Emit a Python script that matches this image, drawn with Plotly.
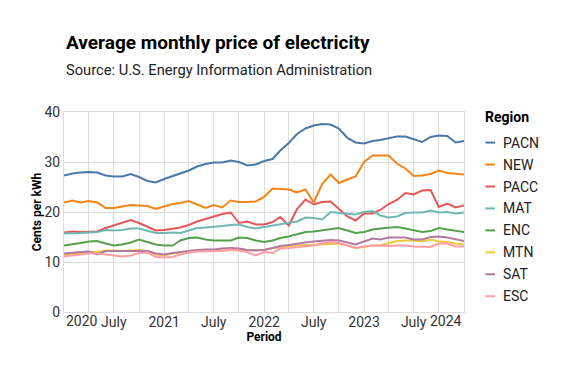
import pandas as pd
import plotly.graph_objects as go

periods = pd.date_range("2020-01-01", periods=49, freq="MS")

regions = ["PACN", "NEW", "PACC", "MAT", "ENC", "MTN", "SAT", "ESC"]
colors = ["#4c78a8", "#f58518", "#e45756", "#72b7b2", "#54a24b", "#eeca3b", "#b279a2", "#ff9da6"]

PACN = [27.3, 27.7, 27.9, 28.0, 27.9, 27.3, 27.1, 27.1, 27.6, 27.0, 26.2, 25.9, 26.6, 27.2, 27.8, 28.3,
        29.1, 29.6, 29.9, 29.9, 30.3, 30.0, 29.3, 29.5, 30.2, 30.6, 32.3, 33.8, 35.6, 36.7, 37.3, 37.6,
        37.5, 36.7, 34.8, 33.9, 33.7, 34.2, 34.4, 34.7, 35.1, 35.1, 34.5, 34.0, 35.0, 35.3, 35.2, 33.9, 34.2]
NEW = [21.9, 22.3, 21.9, 22.2, 21.9, 20.8, 20.8, 21.1, 21.4, 21.3, 21.2, 20.6, 21.1, 21.6, 21.8, 22.2,
       21.5, 20.8, 21.4, 20.9, 22.3, 22.0, 22.0, 22.1, 23.0, 24.7, 24.6, 24.5, 23.9, 24.5, 21.9, 25.6,
       27.5, 25.8, 26.5, 27.1, 30.0, 31.3, 31.3, 31.3, 29.7, 28.7, 27.2, 27.3, 27.6, 28.3, 27.8, 27.7, 27.5]
PACC = [15.9, 16.1, 16.0, 16.1, 16.1, 16.8, 17.3, 17.8, 18.4, 17.8, 17.0, 16.3, 16.4, 16.6, 16.9, 17.4,
        18.1, 18.6, 19.1, 19.6, 19.9, 17.8, 18.1, 17.5, 17.5, 18.0, 19.0, 17.3, 20.6, 22.5, 21.5, 22.0,
        22.1, 20.7, 19.1, 18.3, 19.7, 19.7, 20.4, 21.6, 22.4, 23.8, 23.5, 24.3, 24.4, 21.0, 21.7, 20.9, 21.3]
MAT = [15.7, 15.7, 15.8, 15.9, 16.0, 16.4, 16.3, 16.4, 16.7, 16.7, 16.2, 15.8, 15.8, 15.9, 15.8, 16.3,
       16.8, 16.9, 17.0, 17.2, 17.4, 17.5, 17.0, 16.7, 17.0, 17.3, 17.5, 17.8, 18.1, 18.9, 18.8, 18.5,
       20.0, 19.8, 19.7, 19.5, 20.0, 20.2, 19.3, 18.9, 19.1, 19.8, 19.9, 19.9, 20.3, 19.9, 20.0, 19.7, 19.9]
ENC = [13.3, 13.5, 13.8, 14.1, 14.2, 13.7, 13.3, 13.5, 13.9, 14.5, 14.0, 13.5, 13.3, 13.3, 14.3, 14.8,
       14.9, 14.5, 14.3, 14.3, 14.3, 14.9, 14.8, 14.3, 14.0, 14.3, 14.8, 15.1, 15.5, 16.0, 16.1, 16.3,
       16.5, 16.8, 16.3, 15.8, 16.0, 16.5, 16.7, 16.8, 17.0, 16.7, 16.3, 16.0, 16.2, 16.8, 16.5, 16.2, 16.0]
MTN = [11.3, 11.5, 11.8, 12.0, 12.0, 12.3, 12.3, 12.2, 12.3, 12.4, 12.2, 11.5, 11.3, 11.7, 11.9, 12.2,
       12.3, 12.3, 12.3, 12.3, 12.4, 12.4, 12.3, 12.3, 12.4, 12.8, 12.9, 13.2, 13.3, 13.4, 13.5, 13.5,
       13.7, 13.7, 13.3, 12.8, 13.0, 13.3, 13.3, 13.7, 14.2, 14.3, 14.3, 14.1, 14.5, 14.1, 14.0, 13.7, 13.5]
SAT = [11.7, 11.9, 12.0, 12.1, 11.5, 12.2, 12.2, 12.2, 12.3, 12.3, 12.2, 11.7, 11.5, 11.8, 12.0, 12.3,
       12.4, 12.5, 12.5, 12.7, 12.8, 12.7, 12.4, 12.3, 12.4, 12.8, 13.2, 13.4, 13.7, 13.9, 14.1, 14.3,
       14.4, 14.3, 13.9, 13.5, 14.1, 14.7, 14.5, 14.9, 14.9, 14.9, 14.5, 14.5, 15.0, 15.1, 14.9, 14.5, 14.2]
ESC = [11.1, 11.3, 11.5, 11.7, 11.7, 11.5, 11.2, 11.1, 11.3, 11.8, 11.9, 11.0, 10.9, 11.0, 11.5, 11.9,
       12.1, 12.1, 12.2, 12.2, 12.5, 12.3, 12.0, 11.3, 12.0, 11.8, 12.7, 12.8, 13.0, 13.1, 13.3, 13.7,
       14.0, 13.8, 13.3, 12.8, 13.1, 13.3, 13.3, 13.2, 13.3, 13.3, 13.1, 13.0, 13.0, 13.7, 13.7, 13.1, 13.1]

series = [PACN, NEW, PACC, MAT, ENC, MTN, SAT, ESC]

y_ticks = [0, 10, 20, 30, 40]
x_ticks = pd.date_range("2020-01-01", "2024-01-01", freq="3MS")
x_ticktext = ["", "", "July", "", "2021", "", "July", "", "2022", "", "July", "", "2023", "", "July", "", ""]

FONT = "Roboto, 'Noto Sans', sans-serif"

# figure geometry (page body has an 8px default margin, so the figure is 553x365)
W, H = 553, 365
ML, MR, MT, MB = 56.3, 96.7, 103.7, 61.3
PLOT_W = W - ML - MR
PLOT_H = H - MT - MB


def px(page_x):
    return (page_x - 8 - ML) / PLOT_W


def py(page_y):
    return (H - MB - (page_y - 8)) / PLOT_H


fig = go.Figure()
for name, vals, c in zip(regions, series, colors):
    fig.add_trace(go.Scatter(x=periods, y=vals, mode="lines", name=name,
                             line=dict(color=c, width=2), showlegend=False,
                             hovertemplate="%{x|%b %Y}: %{y}<extra>" + name + "</extra>"))

annotations = [
    dict(text="<b>Average monthly price of electricity</b>", xref="paper", yref="paper",
         x=0.0, y=py(42), xanchor="left", yanchor="middle", showarrow=False,
         font=dict(size=19, color="#000", family=FONT)),
    dict(text="Source: U.S. Energy Information Administration", xref="paper", yref="paper",
         x=0.0, y=py(70), xanchor="left", yanchor="middle", showarrow=False,
         font=dict(size=14.7, color="#222", family=FONT)),
    dict(text="2020", xref="x", yref="paper", x=periods[0], y=py(321),
         xanchor="left", yanchor="middle", showarrow=False,
         font=dict(size=14, color="#333", family=FONT)),
    dict(text="2024", xref="x", yref="paper", x=periods[-1], y=py(321),
         xanchor="right", yanchor="middle", showarrow=False,
         font=dict(size=14, color="#333", family=FONT)),
    # legend title
    dict(text="<b>Region</b>", xref="paper", yref="paper", x=px(483.5), y=py(116.5),
         xanchor="left", yanchor="middle", showarrow=False,
         font=dict(size=14, color="#000", family=FONT)),
]
shapes = []
for k, (name, c) in enumerate(zip(regions, colors)):
    yc = 142.3 + 21.95 * k
    shapes.append(dict(type="line", xref="paper", yref="paper",
                       x0=px(485.7), x1=px(495.3), y0=py(yc), y1=py(yc),
                       line=dict(color=c, width=2)))
    annotations.append(dict(text=name, xref="paper", yref="paper", x=px(501.5), y=py(yc),
                            xanchor="left", yanchor="middle", showarrow=False,
                            font=dict(size=14, color="#222", family=FONT)))

fig.update_layout(
    width=W, height=H,
    margin=dict(l=ML, r=MR, t=MT, b=MB),
    paper_bgcolor="white", plot_bgcolor="white",
    font=dict(family=FONT, color="#333"),
    showlegend=False,
    xaxis=dict(range=[periods[0], periods[-1]], tickvals=x_ticks, ticktext=x_ticktext,
               showgrid=True, gridcolor="#ddd", gridwidth=1, showline=True, linecolor="#ddd",
               mirror=True, ticks="", ticklen=0, ticklabelstandoff=-3,
               tickfont=dict(size=14, color="#333"),
               title=dict(text="<b>Period</b>", font=dict(size=12, color="#000"), standoff=0)),
    yaxis=dict(range=[0, 40], tickvals=y_ticks, showgrid=True,
               gridcolor="#ddd", showline=True, linecolor="#ddd", mirror=True, zeroline=False,
               ticks="", ticklen=0, tickfont=dict(size=14, color="#333"),
               title=dict(text="<b>Cents per kWh</b>", font=dict(size=12, color="#000"), standoff=0)),
    annotations=annotations,
    shapes=shapes,
)

fig.write_html("out.html")
